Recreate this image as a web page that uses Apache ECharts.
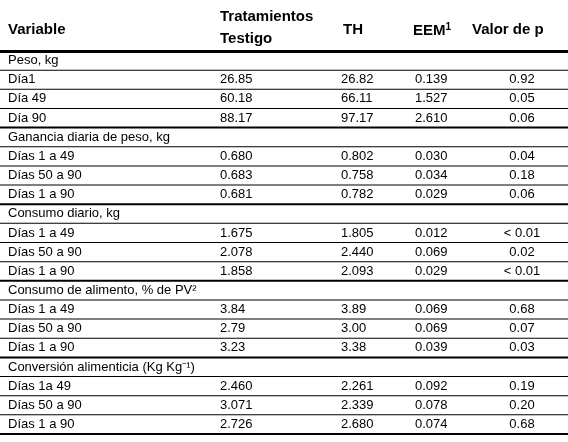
<!DOCTYPE html><html><head><meta charset="utf-8"><script src="https://cdn.jsdelivr.net/npm/echarts@6/dist/echarts.min.js"></script>
<style>body{margin:0;background:#fff}#c{width:568px;height:442px}</style></head><body><div id="c"></div><script>
const labels=["Peso, kg","Día1","Día 49","Día 90","Ganancia diaria de peso, kg","Días 1 a 49","Días 50 a 90","Días 1 a 90","Consumo diario, kg","Días 1 a 49","Días 50 a 90","Días 1 a 90","Consumo de alimento, % de PV²","Días 1 a 49","Días 50 a 90","Días 1 a 90","Conversión alimenticia (Kg Kg⁻¹)","Días 1a 49","Días 50 a 90","Días 1 a 90"];
const testigo=["","26.85","60.18","88.17","","0.680","0.683","0.681","","1.675","2.078","1.858","","3.84","2.79","3.23","","2.460","3.071","2.726"];
const th=["","26.82","66.11","97.17","","0.802","0.758","0.782","","1.805","2.440","2.093","","3.89","3.00","3.38","","2.261","2.339","2.680"];
const eem=["","0.139","1.527","2.610","","0.030","0.034","0.029","","0.012","0.069","0.029","","0.069","0.069","0.039","","0.092","0.078","0.074"];
const pval=["","0.92","0.05","0.06","","0.04","0.18","0.06","","< 0.01","0.02","< 0.01","","0.68","0.07","0.03","","0.19","0.20","0.68"];
const groupEnd=[3,7,11,15,19];
const font='13px "Liberation Sans", Arial, sans-serif';
const c=echarts.init(document.getElementById('c'));
c.setOption({animation:false,
grid:{left:0,right:0,top:51,bottom:8},
xAxis:{type:'value',min:0,max:568,show:false},
yAxis:{type:'category',inverse:true,data:labels.map((_,i)=>i),show:false},
graphic:[
{type:'text',left:8,top:22,style:{text:'Variable',font:'bold 15px "Liberation Sans", Arial',fill:'#000'}},
{type:'text',left:220,top:6,style:{text:'Tratamientos\nTestigo',font:'bold 15px "Liberation Sans", Arial',lineHeight:22,fill:'#000'}},
{type:'text',left:343,top:22,style:{text:'TH',font:'bold 15px "Liberation Sans", Arial',fill:'#000'}},
{type:'text',left:413,top:22,style:{rich:{a:{font:'bold 15px "Liberation Sans", Arial'},s:{font:'bold 10px "Liberation Sans", Arial',verticalAlign:'top',padding:[0,0,8,0]}},text:'{a|EEM}{s|1}',fill:'#000'}},
{type:'text',left:472,top:22,style:{text:'Valor de p',font:'bold 15px "Liberation Sans", Arial',fill:'#000'}},
{type:'rect',left:0,top:50,shape:{width:568,height:3},style:{fill:'#000'}}
],
series:[{type:'custom',data:labels.map((_,i)=>[i]),renderItem:(p,api)=>{
 const i=api.value(0);const pt=api.coord([0,i]);const h=api.size([0,1])[1];const y=pt[1];
 const bottom=y+h/2;const thick=groupEnd.includes(i);
 const t=(x,s,align)=>({type:'text',style:{x:x,y:y,text:s,font:font,fill:'#000',align:align||'left',verticalAlign:'middle'}});
 return {type:'group',children:[
  t(api.coord([8,0])[0],labels[i]),t(api.coord([220,0])[0],testigo[i]),t(api.coord([341,0])[0],th[i]),
  t(api.coord([415,0])[0],eem[i]),t(api.coord([522,0])[0],pval[i],'center'),
  {type:'rect',shape:{x:0,y:bottom-(thick?1:0.5),width:568,height:thick?2:1},style:{fill:'#000'}}]};
}}]});
</script></body></html>
